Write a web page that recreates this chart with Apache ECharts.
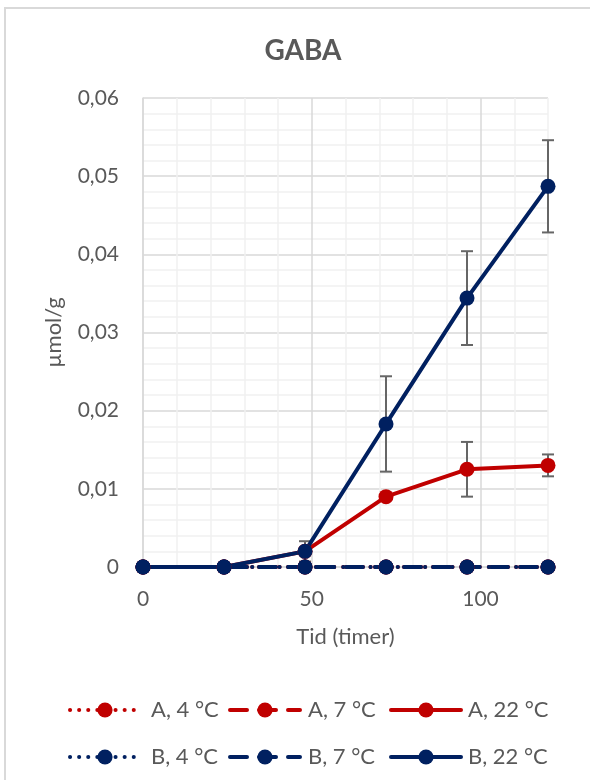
<!DOCTYPE html>
<html>
<head>
<meta charset="utf-8">
<script src="https://cdn.jsdelivr.net/npm/echarts@6/dist/echarts.min.js"></script>
<style>
html,body{margin:0;padding:0;background:#fff;}
#chart{width:590px;height:780px;}
</style>
</head>
<body>
<div id="chart"></div>
<script>
// ---- data ----
const times = [0, 24, 48, 72, 96, 120];
const seriesNames = ['A, 4 °C', 'A, 7 °C', 'A, 22 °C', 'B, 4 °C', 'B, 7 °C', 'B, 22 °C'];
const valsA4 = [0, 0, 0, 0, 0, 0];
const valsA7 = [0, 0, 0, 0, 0, 0];
const valsA22 = [0, 0, 0.002, 0.009, 0.0125, 0.013];
const valsB4 = [0, 0, 0, 0, 0, 0];
const valsB7 = [0, 0, 0, 0, 0, 0];
const valsB22 = [0, 0, 0.002, 0.0183, 0.0344, 0.0487];
const errA22 = [0, 0, 0, 0, 0.0035, 0.0014];
const errB22 = [0, 0, 0.0013, 0.0061, 0.006, 0.0059];
const yTickLabels = ['0', '0,01', '0,02', '0,03', '0,04', '0,05', '0,06'];
const xTickLabels = ['0', '50', '100'];

const RED = '#C00000';
const NAVY = '#002060';
const TXT = '#595959';
const FONT = 'Lato, "Open Sans", sans-serif';
const DOT = [0.1, 9];
const DASH = [17, 12];
const LW = 4;

function pts(vals){ return times.map((t,i)=>[t, vals[i]]); }
function errPts(vals, errs){ return times.map((t,i)=>[t, vals[i], errs[i]]); }

function lineSeries(name, vals, color, type){
  return {
    name: name, type: 'line', data: pts(vals),
    symbol: 'circle', symbolSize: 15,
    itemStyle: {color: color},
    lineStyle: {color: color, width: LW, type: type, cap: 'round'},
    emphasis: {disabled: true},
    z: 3, animation: false
  };
}
function errSeries(vals, errs){
  return {
    type: 'custom', data: errPts(vals, errs), z: 2, animation: false,
    renderItem: function(params, api){
      const x = api.value(0), y = api.value(1), e = api.value(2);
      if (!(e > 0)) return null;
      const top = api.coord([x, y + e]);
      const bot = api.coord([x, y - e]);
      const cw = 6;
      const st = {stroke: '#666666', lineWidth: 2};
      return {type: 'group', children: [
        {type: 'line', shape: {x1: top[0], y1: top[1], x2: bot[0], y2: bot[1]}, style: st},
        {type: 'line', shape: {x1: top[0]-cw, y1: top[1], x2: top[0]+cw, y2: top[1]}, style: st},
        {type: 'line', shape: {x1: bot[0]-cw, y1: bot[1], x2: bot[0]+cw, y2: bot[1]}, style: st}
      ]};
    }
  };
}

const legendPos = [
  {left: 68, top: 699, pad: 6}, {left: 228, top: 699, pad: 3}, {left: 389, top: 699, pad: 2},
  {left: 68, top: 746, pad: 6}, {left: 228, top: 746, pad: 3}, {left: 389, top: 746, pad: 2}
];
const legends = seriesNames.map((n, i) => ({
  data: [n], left: legendPos[i].left, top: legendPos[i].top, padding: 0,
  itemWidth: 70, itemHeight: 19, orient: 'horizontal',
  lineStyle: {width: LW},
  textStyle: {fontFamily: FONT, fontSize: 22, color: TXT, padding: [0,0,0,legendPos[i].pad]}
}));

const chart = echarts.init(document.getElementById('chart'), null, {renderer: 'canvas'});
chart.setOption({
  backgroundColor: '#fff',
  animation: false,
  title: {
    text: 'GABA', left: 298, top: 32, textAlign: 'center',
    textStyle: {fontFamily: FONT, fontSize: 28, fontWeight: 'bold', color: TXT}
  },
  graphic: [{
    type: 'rect', shape: {x: 5, y: 8, width: 600, height: 800},
    style: {fill: 'none', stroke: '#d9d9d9', lineWidth: 2}, z: -1
  }],
  legend: legends,
  grid: {left: 143, right: 42, top: 98, bottom: 213, containLabel: false},
  xAxis: {
    type: 'value', min: 0, max: 120, interval: 10,
    name: 'Tid (timer)', nameLocation: 'middle', nameGap: 59,
    nameTextStyle: {fontFamily: FONT, fontSize: 22, color: TXT},
    axisLine: {show: true, lineStyle: {color: '#d9d9d9', width: 1.5}},
    axisTick: {show: false},
    axisLabel: {
      margin: 22, fontFamily: FONT, fontSize: 21, color: TXT,
      formatter: function(v){ const k = xTickLabels.indexOf(String(Math.round(v))); return (v % 50 === 0 && k >= 0) ? xTickLabels[k] : ''; }
    },
    splitLine: {show: true, lineStyle: {color: ['#d9d9d9','#f0f0f0','#f0f0f0','#f0f0f0','#f0f0f0'], width: 1.5}}
  },
  yAxis: {
    type: 'value', min: 0, max: 0.06, interval: 0.002,
    name: 'µmol/g', nameLocation: 'middle', nameGap: 78, nameRotate: 90,
    nameTextStyle: {fontFamily: FONT, fontSize: 22, color: TXT},
    axisLine: {show: true, lineStyle: {color: '#d9d9d9', width: 1.5}},
    axisTick: {show: false},
    axisLabel: {
      margin: 24, fontFamily: FONT, fontSize: 21, color: TXT,
      formatter: function(v){
        const k = Math.round(v * 100);
        if (Math.abs(v * 100 - k) > 1e-6) return '';
        return yTickLabels[k] !== undefined ? yTickLabels[k] : '';
      }
    },
    splitLine: {show: true, lineStyle: {color: ['#d9d9d9','#f0f0f0','#f0f0f0','#f0f0f0','#f0f0f0'], width: 1.5}}
  },
  series: [
    errSeries(valsA22, errA22),
    errSeries(valsB22, errB22),
    lineSeries(seriesNames[0], valsA4, RED, DOT),
    lineSeries(seriesNames[1], valsA7, RED, DASH),
    lineSeries(seriesNames[2], valsA22, RED, 'solid'),
    lineSeries(seriesNames[3], valsB4, NAVY, DOT),
    lineSeries(seriesNames[4], valsB7, NAVY, DASH),
    lineSeries(seriesNames[5], valsB22, NAVY, 'solid')
  ]
});
</script>
</body>
</html>
